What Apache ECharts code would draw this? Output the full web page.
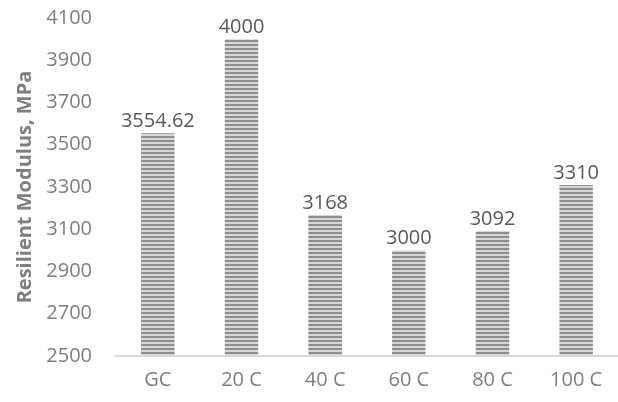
<!DOCTYPE html>
<html><head><meta charset="utf-8">
<script src="https://cdn.jsdelivr.net/npm/echarts@6/dist/echarts.min.js"></script>
<style>html,body{margin:0;padding:0;background:#fff}#c{width:618px;height:402px}</style>
</head><body><div id="c"></div>
<script>
const categories = ['GC', '20 C', '40 C', '60 C', '80 C', '100 C'];
const values = [3554.62, 4000, 3168, 3000, 3092, 3310];
const labels = ['3554.62', '4000', '3168', '3000', '3092', '3310'];

const pc = document.createElement('canvas');
pc.width = 4; pc.height = 4;
const g = pc.getContext('2d');
g.fillStyle = '#d6d6d6'; g.fillRect(0, 0, 4, 4);
g.fillStyle = '#8e8e8e'; g.fillRect(0, 0, 4, 2);

const font = '"Open Sans", sans-serif';
const chart = echarts.init(document.getElementById('c'));
chart.setOption({
  animation: false,
  grid: { left: 116, right: 0, top: 18, bottom: 46, containLabel: false },
  xAxis: {
    type: 'category', data: categories,
    axisLine: { lineStyle: { color: '#d9d9d9', width: 2 } },
    axisTick: { show: false },
    axisLabel: { color: '#7f7f7f', fontSize: 20, fontFamily: font, margin: 14 }
  },
  yAxis: {
    type: 'value', min: 2500, max: 4100, interval: 200,
    name: 'Resilient Modulus, MPa', nameLocation: 'middle', nameGap: 81,
    nameTextStyle: { color: '#7f7f7f', fontSize: 20, fontWeight: 'bold', fontFamily: font },
    axisLine: { show: false }, axisTick: { show: false },
    splitLine: { show: false },
    axisLabel: { color: '#7f7f7f', fontSize: 20, fontFamily: font, margin: 24, formatter: v => String(v) }
  },
  series: [{
    type: 'bar', data: values, barWidth: '40%',
    itemStyle: { color: { image: pc, repeat: 'repeat' } },
    label: {
      show: true, position: 'top', distance: 2,
      color: '#595959', fontSize: 20, fontFamily: font,
      formatter: p => labels[p.dataIndex]
    }
  }]
});
</script></body></html>
